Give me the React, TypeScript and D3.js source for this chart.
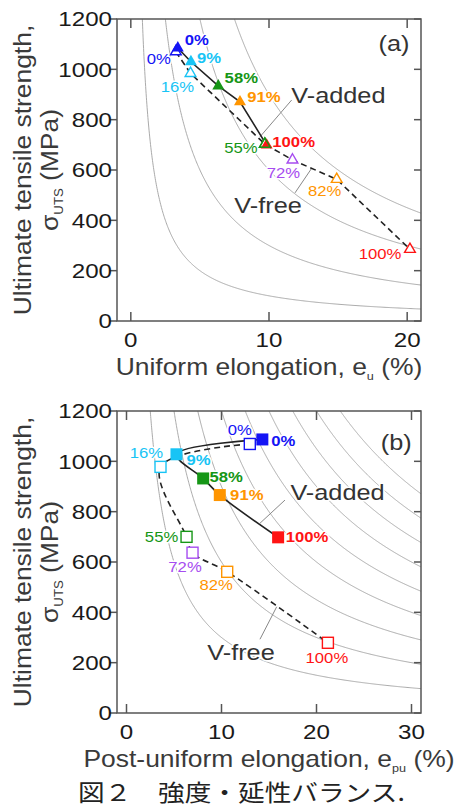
import React from "react";
import * as d3 from "d3";

// ---------- data ----------
const labelsAdded = ["0%", "9%", "58%", "91%", "100%"];
const labelsFree = ["0%", "16%", "55%", "72%", "82%", "100%"];
const seriesColors = ["#1414f5", "#18c4f5", "#169616", "#ff9500", "#ff1414"];
const freeColors = ["#1414f5", "#18c4f5", "#169616", "#a64cf0", "#ff9500", "#ff1414"];

// panel (a): uniform elongation (%) vs UTS (MPa)
const aAddedE = [3.4, 4.35, 6.33, 7.9, 9.83];
const aAddedS = [1085, 1030, 934, 871, 699];
const aFreeE = [3.26, 4.32, 9.7, 11.7, 14.9, 20.2];
const aFreeS = [1070, 984, 703, 640, 563, 285];

// panel (b): post-uniform elongation (%) vs UTS (MPa)
const bAddedE = [14.3, 5.26, 8.07, 9.82, 15.96];
const bAddedS = [1087, 1028, 932, 866, 698];
const bFreeE = [12.98, 3.58, 6.32, 6.95, 10.6, 21.2];
const bFreeS = [1069, 978, 700, 637, 561, 279];

// iso strength-ductility product curves (MPa·%)
const aProducts = [1000, 3000, 6000, 9000];
const bProducts = [3000, 6000, 9000, 12000, 15000, 18000, 21000, 24000, 27000];

const yTicks = [0, 200, 400, 600, 800, 1000, 1200];
const aXTicks = [0, 10, 20];
const bXTicks = [0, 10, 20, 30];

// ---------- layout ----------
const FONT = "'Liberation Sans', Arial, sans-serif";
const SX = 1.15;
const L = 117, R = 421;

// label offsets (px) relative to marker
const aAddedOff = [[19, -8], [18, -4], [23, -8], [24, -5], [27, -3]];
const aFreeOff = [[-17, 7], [-13, 14], [-24, 4], [-9, 13], [-12, 12], [-30, 5]];
const bAddedOff = [[21, 1], [22, 6], [23, -2], [27, 0], [29, 0]];
const bFreeOff = [[-10, -14], [-14, -14], [-25, 0], [-7.5, 14], [-11, 13], [-1, 15]];

type TProps = {
  x: number; y: number; size: number; children: any; anchor?: string;
  weight?: any; fill?: string; rotate?: number; sx?: number; halo?: boolean; family?: string;
};
function T({ x, y, size, children, anchor = "middle", weight = "normal", fill = "#222", rotate = 0, sx = SX, halo = false, family = FONT }: TProps) {
  return (
    <text
      transform={`translate(${x},${y}) rotate(${rotate}) scale(${sx},1)`}
      fontSize={size}
      fontFamily={family}
      textAnchor={anchor as any}
      fontWeight={weight}
      fill={fill}
      dy="0.35em"
      stroke={halo ? "#fff" : undefined}
      strokeWidth={halo ? 3 : undefined}
      paintOrder="stroke"
      strokeLinejoin="round"
    >
      {children}
    </text>
  );
}

type PanelProps = {
  id: string; top: number; bottom: number; xDomain: [number, number]; xTicks: number[];
  products: number[]; addedE: number[]; addedS: number[]; freeE: number[]; freeS: number[];
  addedOff: number[][]; freeOff: number[][]; marker: "tri" | "sq"; smooth: boolean;
  tag: string; tagPos: [number, number];
  vAddText: [number, number]; vAddLead: [number, number, number, number];
  vFreeText: [number, number]; vFreeLead: [number, number, number, number];
  xTitle: any;
};

function Panel(p: PanelProps) {
  const x = d3.scaleLinear().domain(p.xDomain).range([L, R]);
  const y = d3.scaleLinear().domain([0, 1200]).range([p.bottom, p.top]);
  const clipId = "clip-" + p.id;

  const curves = p.products.map((P) => {
    const e0 = P / 1300;
    const pts = d3.range(0, 401).map((i) => {
      const e = e0 + (p.xDomain[1] - e0) * Math.pow(i / 400, 1.6);
      return [x(e), y(P / e)] as [number, number];
    });
    return d3.line()(pts) || "";
  });

  const lineGen = d3.line<[number, number]>()
    .x((d) => x(d[0]))
    .y((d) => y(d[1]))
    .curve(p.smooth ? d3.curveCatmullRom.alpha(0.5) : d3.curveLinear);
  const added = lineGen(p.addedE.map((e, i) => [e, p.addedS[i]] as [number, number])) || "";
  const free = lineGen(p.freeE.map((e, i) => [e, p.freeS[i]] as [number, number])) || "";

  const triFilled = d3.symbol().type(d3.symbolTriangle).size(62)() || "";
  const triOpen = d3.symbol().type(d3.symbolTriangle).size(50)() || "";

  const midY = (p.top + p.bottom) / 2;

  return (
    <g>
      <defs>
        <clipPath id={clipId}>
          <rect x={L} y={p.top} width={R - L} height={p.bottom - p.top} />
        </clipPath>
      </defs>
      <g clipPath={`url(#${clipId})`}>
        {curves.map((d, i) => (
          <path key={i} d={d} fill="none" stroke="#a0a0a0" strokeWidth={0.9} />
        ))}
      </g>
      {/* leader lines */}
      <line x1={x(p.vAddLead[0])} y1={y(p.vAddLead[1])} x2={x(p.vAddLead[2])} y2={y(p.vAddLead[3])} stroke="#888" strokeWidth={1} />
      <line x1={x(p.vFreeLead[0])} y1={y(p.vFreeLead[1])} x2={x(p.vFreeLead[2])} y2={y(p.vFreeLead[3])} stroke="#888" strokeWidth={1} />

      {/* percent labels */}
      {p.freeE.map((e, i) => (
        <T key={"fl" + i} x={x(e) + p.freeOff[i][0]} y={y(p.freeS[i]) + p.freeOff[i][1]} size={14.5} fill={freeColors[i]} halo>
          {labelsFree[i]}
        </T>
      ))}
      {p.addedE.map((e, i) => (
        <T key={"al" + i} x={x(e) + p.addedOff[i][0]} y={y(p.addedS[i]) + p.addedOff[i][1]} size={14.5} weight="bold" fill={seriesColors[i]} halo>
          {labelsAdded[i]}
        </T>
      ))}

      <path d={free} fill="none" stroke="#222" strokeWidth={1.6} strokeDasharray="6,4" />
      <path d={added} fill="none" stroke="#222" strokeWidth={1.6} />

      {/* markers */}
      {p.freeE.map((e, i) =>
        p.marker === "tri" ? (
          <path key={"fm" + i} d={triOpen} transform={`translate(${x(e)},${y(p.freeS[i])})`} fill="#fff" stroke={freeColors[i]} strokeWidth={1.4} />
        ) : (
          <rect key={"fm" + i} x={x(e) - 5.5} y={y(p.freeS[i]) - 5.5} width={11} height={11} fill="#fff" stroke={freeColors[i]} strokeWidth={1.4} />
        )
      )}
      {p.addedE.map((e, i) =>
        p.marker === "tri" ? (
          <path key={"am" + i} d={triFilled} transform={`translate(${x(e)},${y(p.addedS[i])})`} fill={seriesColors[i]} />
        ) : (
          <rect key={"am" + i} x={x(e) - 6} y={y(p.addedS[i]) - 6} width={12} height={12} fill={seriesColors[i]} />
        )
      )}
      {/* re-draw open marker that sits on top (55% over 100% in a) */}
      {p.marker === "tri" && (
        <path d={triOpen} transform={`translate(${x(p.freeE[2])},${y(p.freeS[2])})`} fill="none" stroke={freeColors[2]} strokeWidth={1.4} />
      )}

      <T x={x(p.vAddText[0])} y={y(p.vAddText[1])} size={22} fill="#333" halo>V-added</T>
      <T x={x(p.vFreeText[0])} y={y(p.vFreeText[1])} size={22} fill="#333" halo>V-free</T>
      <T x={x(p.tagPos[0])} y={y(p.tagPos[1])} size={22} fill="#333" halo>{p.tag}</T>

      {/* frame */}
      <rect x={L} y={p.top} width={R - L} height={p.bottom - p.top} fill="none" stroke="#555" strokeWidth={1.5} />
      {/* y ticks */}
      {yTicks.map((t) => (
        <g key={"yt" + t}>
          <line x1={L - 7} x2={L} y1={y(t)} y2={y(t)} stroke="#555" strokeWidth={1.5} />
          <line x1={R - 7} x2={R} y1={y(t)} y2={y(t)} stroke="#555" strokeWidth={1.5} />
          <T x={112} y={y(t)} size={21} anchor="end" fill="#1a1a1a">{t}</T>
        </g>
      ))}
      {/* x ticks */}
      {p.xTicks.map((t) => (
        <g key={"xt" + t}>
          <line x1={x(t)} x2={x(t)} y1={p.bottom} y2={p.bottom - 9} stroke="#555" strokeWidth={1.5} />
          <line x1={x(t)} x2={x(t)} y1={p.top} y2={p.top + 9} stroke="#555" strokeWidth={1.5} />
          <T x={x(t)} y={p.bottom + 19} size={21} fill="#1a1a1a">{t}</T>
        </g>
      ))}
      {/* axis titles */}
      <T x={(L + R) / 2} y={p.bottom + 46} size={23} fill="#3a3a3a">{p.xTitle}</T>
      <T x={23} y={midY} size={24} rotate={-90} sx={1.1} fill="#3a3a3a">Ultimate tensile strength,</T>
      <T x={50} y={midY} size={24} rotate={-90} sx={1.1} fill="#3a3a3a">
        σ<tspan fontSize={12} dy={5}>UTS</tspan><tspan dy={-5}> (MPa)</tspan>
      </T>
    </g>
  );
}

export default function App() {
  return (
    <svg width={455} height={810} style={{ position: "absolute", left: 0, top: 0, display: "block", background: "#fff" }}>
      <rect x={0} y={0} width={455} height={810} fill="#fff" />
      <Panel
        id="a" top={19} bottom={321} xDomain={[-1, 21]} xTicks={aXTicks} products={aProducts}
        addedE={aAddedE} addedS={aAddedS} freeE={aFreeE} freeS={aFreeS}
        addedOff={aAddedOff} freeOff={aFreeOff} marker="tri" smooth={false}
        tag="(a)" tagPos={[19.05, 1105]}
        vAddText={[15.02, 898]} vAddLead={[11.64, 878, 9.35, 732]}
        vFreeText={[9.93, 461]} vFreeLead={[11.88, 509, 13.09, 607]}
        xTitle={<>Uniform elongation, e<tspan fontSize={11} dy={5}>u</tspan><tspan dy={-5}> (%)</tspan></>}
      />
      <Panel
        id="b" top={411} bottom={713} xDomain={[-1, 31]} xTicks={bXTicks} products={bProducts}
        addedE={bAddedE} addedS={bAddedS} freeE={bFreeE} freeS={bFreeS}
        addedOff={bAddedOff} freeOff={bFreeOff} marker="sq" smooth={true}
        tag="(b)" tagPos={[28.4, 1077]}
        vAddText={[22.21, 878]} vAddLead={[16.68, 846, 14.05, 754]}
        vFreeText={[12.05, 242]} vFreeLead={[14.05, 293, 15.81, 422]}
        xTitle={<>Post-uniform elongation, e<tspan fontSize={11} dy={5}>pu</tspan><tspan dy={-5}> (%)</tspan></>}
      />
      <T x={78} y={793} size={23} anchor="start" fill="#222" family="'Noto Sans CJK JP', sans-serif" sx={1.16}>
        図２　強度・延性バランス.
      </T>
    </svg>
  );
}
